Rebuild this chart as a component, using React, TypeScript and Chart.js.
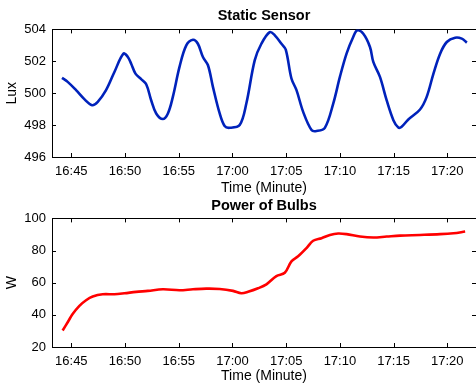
import React, { useEffect, useRef } from "react";
import { Chart, registerables } from "chart.js";

Chart.register(...registerables);

// minutes after 16:00
const LUX_TIME = [44.13, 44.66, 45.44, 46.21, 46.93, 47.46, 48.23, 49.01, 49.85, 50.26, 50.57, 50.97, 51.5, 51.97, 52.43, 52.9, 53.52, 53.99, 54.45, 55.07, 55.7, 56.32, 56.78, 57.25, 57.72, 58.18, 58.81, 59.27, 59.74, 60.67, 61.29, 62.07, 62.69, 63.47, 63.94, 64.56, 64.96, 65.49, 65.96, 66.58, 67.36, 67.82, 68.6, 69.38, 70.0, 70.62, 71.24, 71.62, 72.18, 72.8, 73.11, 73.73, 74.35, 74.98, 75.44, 75.75, 76.37, 77.46, 78.08, 78.71, 79.33, 79.95, 80.73, 81.35, 81.82];
const LUX_VALUES = [500.96, 500.71, 500.19, 499.63, 499.25, 499.46, 500.19, 501.33, 502.48, 502.27, 501.85, 501.23, 500.88, 500.56, 499.56, 498.73, 498.38, 498.73, 499.77, 501.65, 503.0, 503.35, 503.1, 502.27, 501.75, 500.4, 498.73, 497.94, 497.83, 498.0, 499.35, 502.06, 503.1, 503.83, 503.63, 503.1, 502.73, 500.92, 500.19, 498.83, 497.69, 497.63, 497.83, 499.35, 501.02, 502.48, 503.52, 503.94, 503.73, 502.9, 501.96, 501.02, 499.56, 498.31, 497.85, 497.9, 498.35, 498.98, 499.77, 501.23, 502.48, 503.21, 503.48, 503.42, 503.17];

const POWER_TIME = [44.19, 44.66, 45.12, 45.75, 46.37, 46.99, 47.92, 49.01, 49.94, 51.03, 52.12, 53.52, 55.07, 56.32, 57.56, 58.81, 60.05, 60.83, 61.45, 62.38, 63.16, 64.09, 64.87, 65.49, 66.11, 66.89, 67.51, 68.29, 69.07, 69.84, 70.62, 71.87, 73.11, 74.35, 75.6, 77.46, 79.33, 80.57, 81.66];
const POWER_VALUES = [30.3, 35.4, 40.5, 45.6, 49.1, 51.4, 52.8, 52.8, 53.4, 54.3, 54.9, 55.9, 55.3, 55.9, 56.3, 56.1, 54.9, 53.4, 54.3, 56.5, 59.0, 64.1, 66.2, 73.3, 76.4, 81.5, 86.1, 87.7, 89.7, 90.6, 90.2, 88.7, 88.1, 88.7, 89.3, 89.7, 90.2, 90.8, 91.8];

const X_TICKS = [45, 50, 55, 60, 65, 70, 75, 80];
const X_TICK_LABELS = ["16:45", "16:50", "16:55", "17:00", "17:05", "17:10", "17:15", "17:20"];
const X_MIN = 43.2;
const X_MAX = 82.67;

const LUX_TICKS = [496, 498, 500, 502, 504];
const POWER_TICKS = [20, 40, 60, 80, 100];

const FONT = "'Liberation Sans', Arial, Helvetica, sans-serif";

const boxPlugin = {
  id: "matlabBox",
  beforeDatasetsDraw(chart: any) {
    const { ctx, chartArea } = chart;
    const { left, right, top, bottom } = chartArea;
    const xs = chart.scales.x;
    const ys = chart.scales.y;
    const tl = 4;
    ctx.save();
    ctx.strokeStyle = "#000";
    ctx.lineWidth = 1;
    ctx.beginPath();
    ctx.rect(Math.round(left) + 0.5, Math.round(top) + 0.5, Math.round(right - left), Math.round(bottom - top));
    ctx.stroke();
    ctx.beginPath();
    xs.ticks.forEach((t: any) => {
      const px = Math.round(xs.getPixelForValue(t.value)) + 0.5;
      ctx.moveTo(px, bottom);
      ctx.lineTo(px, bottom - tl);
      ctx.moveTo(px, top);
      ctx.lineTo(px, top + tl);
    });
    ys.ticks.forEach((t: any) => {
      const py = Math.round(ys.getPixelForValue(t.value)) + 0.5;
      ctx.moveTo(left, py);
      ctx.lineTo(left + tl, py);
      ctx.moveTo(right, py);
      ctx.lineTo(right - tl, py);
    });
    ctx.stroke();
    ctx.restore();
  },
};

function makeConfig(opts: {
  title: string;
  yTitle: string;
  xs: number[];
  ys: number[];
  color: string;
  yTicks: number[];
  titlePad: { top: number; bottom: number };
  xAxisHeight: number;
}): any {
  const data = opts.xs.map((x, i) => ({ x, y: opts.ys[i] }));
  return {
    type: "line",
    data: {
      datasets: [
        {
          data,
          borderColor: opts.color,
          borderWidth: 2.6,
          pointRadius: 0,
          tension: 0.35,
          fill: false,
        },
      ],
    },
    options: {
      responsive: false,
      animation: false,
      layout: { padding: { left: 0, right: 0, top: 0, bottom: 0 } },
      plugins: {
        legend: { display: false },
        tooltip: { enabled: false },
        title: {
          display: true,
          fullSize: false,
          text: opts.title,
          color: "#000",
          font: { family: FONT, size: 14.5, weight: "bold" },
          padding: opts.titlePad,
        },
      },
      scales: {
        x: {
          type: "linear",
          min: X_MIN,
          max: X_MAX,
          grid: { display: false, drawTicks: false },
          border: { display: false },
          afterBuildTicks: (scale: any) => {
            scale.ticks = X_TICKS.map((v) => ({ value: v }));
          },
          afterFit: (scale: any) => {
            scale.height = opts.xAxisHeight;
          },
          ticks: {
            color: "#000",
            font: { family: FONT, size: 13 },
            padding: 7,
            maxRotation: 0,
            autoSkip: false,
            callback: (v: any) => {
              const i = X_TICKS.indexOf(Number(v));
              return i >= 0 ? X_TICK_LABELS[i] : "";
            },
          },
          title: {
            display: true,
            text: "Time (Minute)",
            color: "#000",
            font: { family: FONT, size: 14 },
            padding: { top: 0, bottom: 0 },
          },
        },
        y: {
          type: "linear",
          min: opts.yTicks[0],
          max: opts.yTicks[opts.yTicks.length - 1],
          grid: { display: false, drawTicks: false },
          border: { display: false },
          afterBuildTicks: (scale: any) => {
            scale.ticks = opts.yTicks.map((v) => ({ value: v }));
          },
          afterFit: (scale: any) => {
            scale.width = 52;
          },
          ticks: {
            color: "#000",
            font: { family: FONT, size: 13 },
            padding: 6,
          },
          title: {
            display: true,
            text: opts.yTitle,
            color: "#000",
            font: { family: FONT, size: 14 },
            padding: { top: 4, bottom: 0 },
          },
        },
      },
    },
    plugins: [boxPlugin],
  };
}

export default function App() {
  const topRef = useRef<HTMLCanvasElement>(null);
  const botRef = useRef<HTMLCanvasElement>(null);

  useEffect(() => {
    document.body.style.margin = "0";
    document.body.style.overflow = "hidden";
    const c1 = new Chart(
      topRef.current as HTMLCanvasElement,
      makeConfig({
        title: "Static Sensor",
        yTitle: "Lux",
        xs: LUX_TIME,
        ys: LUX_VALUES,
        color: "#0022bb",
        yTicks: LUX_TICKS,
        titlePad: { top: 7, bottom: 5 },
        xAxisHeight: 40,
      })
    );
    const c2 = new Chart(
      botRef.current as HTMLCanvasElement,
      makeConfig({
        title: "Power of Bulbs",
        yTitle: "W",
        xs: POWER_TIME,
        ys: POWER_VALUES,
        color: "#ff0000",
        yTicks: POWER_TICKS,
        titlePad: { top: 7, bottom: 4 },
        xAxisHeight: 38,
      })
    );
    return () => {
      c1.destroy();
      c2.destroy();
    };
  }, []);

  return (
    <div style={{ position: "relative", width: 476, height: 385, overflow: "hidden", background: "#fff" }}>
      <canvas ref={topRef} width={476} height={197} style={{ position: "absolute", left: 0, top: 0 }} />
      <canvas ref={botRef} width={476} height={195} style={{ position: "absolute", left: 0, top: 190 }} />
    </div>
  );
}
